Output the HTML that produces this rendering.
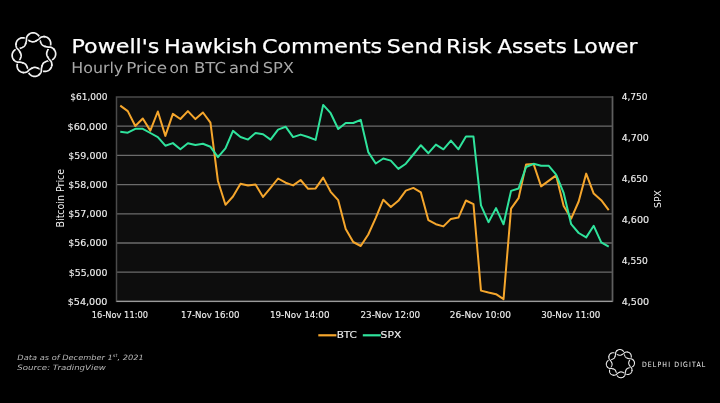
<!DOCTYPE html><html><head><meta charset="utf-8"><title>Powell's Hawkish Comments Send Risk Assets Lower</title><style>html,body{margin:0;padding:0;background:#000;overflow:hidden}svg{display:block;will-change:transform}</style></head><body>
<svg width="720" height="403" viewBox="0 0 720 403">
<rect width="720" height="403" fill="#000"/>
<path d="M32.76,32.83L33.44,32.83L34.13,32.90L34.80,33.04L35.47,33.25L36.11,33.54L36.74,33.89L37.33,34.30L37.89,34.79L38.42,35.35L38.89,35.98L39.30,36.70L39.62,37.59L39.70,38.99L39.91,39.87L40.13,40.60L40.35,41.25L40.57,41.85L40.78,42.39L40.99,42.89L41.21,43.34L41.43,43.76L41.66,44.14L41.91,44.49L42.18,44.80L42.46,45.09L42.78,45.34L43.12,45.57L43.49,45.78L43.89,45.98L44.33,46.15L44.81,46.32L45.33,46.48L45.89,46.64L46.50,46.79L47.17,46.94L47.92,47.08L48.82,47.20L50.22,47.13L51.13,47.36L51.90,47.69L52.58,48.10L53.18,48.56L53.73,49.06L54.20,49.61L54.62,50.20L54.96,50.81L55.24,51.45L55.46,52.11L55.60,52.78L55.67,53.46L55.67,54.14L55.60,54.83L55.46,55.50L55.25,56.17L54.96,56.81L54.61,57.44L54.20,58.03L53.71,58.59L53.15,59.12L52.52,59.59L51.80,60.00L50.91,60.32L49.51,60.40L48.63,60.61L47.90,60.83L47.25,61.05L46.65,61.27L46.11,61.48L45.61,61.69L45.16,61.91L44.74,62.13L44.36,62.36L44.01,62.61L43.70,62.88L43.41,63.16L43.16,63.48L42.93,63.82L42.72,64.19L42.52,64.59L42.35,65.03L42.18,65.51L42.02,66.03L41.86,66.59L41.71,67.20L41.56,67.87L41.42,68.62L41.30,69.52L41.37,70.92L41.14,71.83L40.81,72.60L40.40,73.28L39.94,73.88L39.44,74.43L38.89,74.90L38.30,75.32L37.69,75.66L37.05,75.94L36.39,76.16L35.72,76.30L35.04,76.37L34.36,76.37L33.67,76.30L33.00,76.16L32.33,75.95L31.69,75.66L31.06,75.31L30.47,74.90L29.91,74.41L29.38,73.85L28.91,73.22L28.50,72.50L28.18,71.61L28.10,70.21L27.89,69.33L27.67,68.60L27.45,67.95L27.23,67.35L27.02,66.81L26.81,66.31L26.59,65.86L26.37,65.44L26.14,65.06L25.89,64.71L25.62,64.40L25.34,64.11L25.02,63.86L24.68,63.63L24.31,63.42L23.91,63.22L23.47,63.05L22.99,62.88L22.47,62.72L21.91,62.56L21.30,62.41L20.63,62.26L19.88,62.12L18.98,62.00L17.58,62.07L16.67,61.84L15.90,61.51L15.22,61.10L14.62,60.64L14.07,60.14L13.60,59.59L13.18,59.00L12.84,58.39L12.56,57.75L12.34,57.09L12.20,56.42L12.13,55.74L12.13,55.06L12.20,54.37L12.34,53.70L12.55,53.03L12.84,52.39L13.19,51.76L13.60,51.17L14.09,50.61L14.65,50.08L15.28,49.61L16.00,49.20L16.89,48.88L18.29,48.80L19.17,48.59L19.90,48.37L20.55,48.15L21.15,47.93L21.69,47.72L22.19,47.51L22.64,47.29L23.06,47.07L23.44,46.84L23.79,46.59L24.10,46.32L24.39,46.04L24.64,45.72L24.87,45.38L25.08,45.01L25.28,44.61L25.45,44.17L25.62,43.69L25.78,43.17L25.94,42.61L26.09,42.00L26.24,41.33L26.38,40.58L26.50,39.68L26.43,38.28L26.66,37.37L26.99,36.60L27.40,35.92L27.86,35.32L28.36,34.77L28.91,34.30L29.50,33.88L30.11,33.54L30.75,33.26L31.41,33.04L32.08,32.90L32.76,32.83Z" fill="none" stroke="#f2f2f2" stroke-width="1.7"/>
<path d="M33.23,41.82L33.63,41.78L34.04,41.70L34.45,41.59L34.87,41.44L35.30,41.25L35.76,41.03L36.24,40.78L36.74,40.49L37.29,40.17L37.87,39.80L38.50,39.37L39.21,38.82L40.16,37.78L40.96,37.29L41.74,36.99L42.51,36.80L43.26,36.69L44.00,36.67L44.73,36.72L45.44,36.84L46.11,37.03L46.76,37.28L47.38,37.59L47.95,37.97L48.49,38.40L48.97,38.88L49.40,39.42L49.78,40.00L50.10,40.62L50.36,41.27L50.55,41.96L50.68,42.68L50.73,43.42L50.71,44.18L50.60,44.96L50.37,45.77L49.98,46.62L49.04,47.67L48.56,48.44L48.20,49.11L47.90,49.72L47.63,50.30L47.40,50.83L47.20,51.33L47.03,51.81L46.89,52.26L46.78,52.70L46.71,53.12L46.68,53.53L46.68,53.93L46.72,54.33L46.80,54.74L46.91,55.15L47.06,55.57L47.25,56.00L47.47,56.46L47.72,56.94L48.01,57.44L48.33,57.99L48.70,58.57L49.13,59.20L49.68,59.91L50.72,60.86L51.21,61.66L51.51,62.44L51.70,63.21L51.81,63.96L51.83,64.70L51.78,65.43L51.66,66.14L51.47,66.81L51.22,67.46L50.91,68.08L50.53,68.65L50.10,69.19L49.62,69.67L49.08,70.10L48.50,70.48L47.88,70.80L47.23,71.06L46.54,71.25L45.82,71.38L45.08,71.43L44.32,71.41L43.54,71.30L42.73,71.07L41.88,70.68L40.83,69.74L40.06,69.26L39.39,68.90L38.78,68.60L38.20,68.33L37.67,68.10L37.17,67.90L36.69,67.73L36.24,67.59L35.80,67.48L35.38,67.41L34.97,67.38L34.57,67.38L34.17,67.42L33.76,67.50L33.35,67.61L32.93,67.76L32.50,67.95L32.04,68.17L31.56,68.42L31.06,68.71L30.51,69.03L29.93,69.40L29.30,69.83L28.59,70.38L27.64,71.42L26.84,71.91L26.06,72.21L25.29,72.40L24.54,72.51L23.80,72.53L23.07,72.48L22.36,72.36L21.69,72.17L21.04,71.92L20.42,71.61L19.85,71.23L19.31,70.80L18.83,70.32L18.40,69.78L18.02,69.20L17.70,68.58L17.44,67.93L17.25,67.24L17.12,66.52L17.07,65.78L17.09,65.02L17.20,64.24L17.43,63.43L17.82,62.58L18.76,61.53L19.24,60.76L19.60,60.09L19.90,59.48L20.17,58.90L20.40,58.37L20.60,57.87L20.77,57.39L20.91,56.94L21.02,56.50L21.09,56.08L21.12,55.67L21.12,55.27L21.08,54.87L21.00,54.46L20.89,54.05L20.74,53.63L20.55,53.20L20.33,52.74L20.08,52.26L19.79,51.76L19.47,51.21L19.10,50.63L18.67,50.00L18.12,49.29L17.08,48.34L16.59,47.54L16.29,46.76L16.10,45.99L15.99,45.24L15.97,44.50L16.02,43.77L16.14,43.06L16.33,42.39L16.58,41.74L16.89,41.12L17.27,40.55L17.70,40.01L18.18,39.53L18.72,39.10L19.30,38.72L19.92,38.40L20.57,38.14L21.26,37.95L21.98,37.82L22.72,37.77L23.48,37.79L24.26,37.90L25.07,38.13L25.92,38.52L26.97,39.46L27.74,39.94L28.41,40.30L29.02,40.60L29.60,40.87L30.13,41.10L30.63,41.30L31.11,41.47L31.56,41.61L32.00,41.72L32.42,41.79L32.83,41.82L33.23,41.82Z" fill="none" stroke="#f2f2f2" stroke-width="1.7"/>
<path d="M36.49,40.64L36.74,40.49L37.01,40.33L37.29,40.17L37.57,39.99L37.87,39.80L38.17,39.60L38.50,39.37L38.84,39.12L39.21,38.82L39.67,38.29L40.16,37.78L40.57,37.50L40.96,37.29L41.35,37.12L41.74,36.99L42.13,36.88L42.51,36.80L42.89,36.73L43.26,36.69L43.64,36.67" fill="none" stroke="#000" stroke-width="3.5" stroke-linecap="butt"/>
<path d="M35.53,41.15L35.76,41.03L35.99,40.91L36.24,40.78L36.49,40.64L36.74,40.49L37.01,40.33L37.29,40.17L37.57,39.99L37.87,39.80L38.17,39.60L38.50,39.37L38.84,39.12L39.21,38.82L39.67,38.29L40.16,37.78L40.57,37.50L40.96,37.29L41.35,37.12L41.74,36.99L42.13,36.88L42.51,36.80L42.89,36.73L43.26,36.69L43.64,36.67L44.00,36.67L44.37,36.68L44.73,36.72L45.09,36.77" fill="none" stroke="#f2f2f2" stroke-width="1.7"/>
<path d="M45.66,46.57L45.95,46.65L46.25,46.73L46.56,46.80L46.89,46.88L47.24,46.95L47.61,47.03L48.00,47.10L48.43,47.16L48.92,47.20L49.73,47.11L50.32,47.14L50.79,47.25L51.21,47.39L51.60,47.55L51.97,47.73L52.31,47.93L52.64,48.14L52.95,48.37L53.24,48.61L53.52,48.86" fill="none" stroke="#000" stroke-width="3.5" stroke-linecap="butt"/>
<path d="M44.61,46.26L44.86,46.34L45.11,46.42L45.38,46.50L45.66,46.57L45.95,46.65L46.25,46.73L46.56,46.80L46.89,46.88L47.24,46.95L47.61,47.03L48.00,47.10L48.43,47.16L48.92,47.20L49.73,47.11L50.32,47.14L50.79,47.25L51.21,47.39L51.60,47.55L51.97,47.73L52.31,47.93L52.64,48.14L52.95,48.37L53.24,48.61L53.52,48.86L53.78,49.12L54.02,49.39L54.25,49.67L54.46,49.96" fill="none" stroke="#f2f2f2" stroke-width="1.7"/>
<path d="M47.89,57.24L48.04,57.50L48.20,57.76L48.37,58.04L48.55,58.33L48.74,58.63L48.95,58.94L49.18,59.26L49.43,59.61L49.75,59.99L50.39,60.50L50.79,60.94L51.04,61.35L51.24,61.74L51.41,62.13L51.53,62.52L51.64,62.90L51.72,63.28L51.78,63.66L51.81,64.04L51.83,64.41" fill="none" stroke="#000" stroke-width="3.5" stroke-linecap="butt"/>
<path d="M47.37,56.27L47.49,56.51L47.61,56.74L47.75,56.99L47.89,57.24L48.04,57.50L48.20,57.76L48.37,58.04L48.55,58.33L48.74,58.63L48.95,58.94L49.18,59.26L49.43,59.61L49.75,59.99L50.39,60.50L50.79,60.94L51.04,61.35L51.24,61.74L51.41,62.13L51.53,62.52L51.64,62.90L51.72,63.28L51.78,63.66L51.81,64.04L51.83,64.41L51.83,64.78L51.81,65.14L51.77,65.50L51.72,65.86" fill="none" stroke="#f2f2f2" stroke-width="1.7"/>
<path d="M41.93,66.36L41.85,66.65L41.77,66.95L41.70,67.26L41.62,67.59L41.55,67.94L41.47,68.31L41.40,68.70L41.34,69.13L41.30,69.62L41.39,70.43L41.36,71.02L41.25,71.49L41.11,71.91L40.95,72.30L40.77,72.67L40.57,73.01L40.36,73.34L40.13,73.65L39.89,73.94L39.64,74.22" fill="none" stroke="#000" stroke-width="3.5" stroke-linecap="butt"/>
<path d="M42.24,65.31L42.16,65.56L42.08,65.81L42.00,66.08L41.93,66.36L41.85,66.65L41.77,66.95L41.70,67.26L41.62,67.59L41.55,67.94L41.47,68.31L41.40,68.70L41.34,69.13L41.30,69.62L41.39,70.43L41.36,71.02L41.25,71.49L41.11,71.91L40.95,72.30L40.77,72.67L40.57,73.01L40.36,73.34L40.13,73.65L39.89,73.94L39.64,74.22L39.38,74.48L39.11,74.72L38.83,74.95L38.54,75.16" fill="none" stroke="#f2f2f2" stroke-width="1.7"/>
<path d="M31.26,68.59L31.00,68.74L30.74,68.90L30.46,69.07L30.17,69.25L29.87,69.44L29.56,69.65L29.24,69.88L28.89,70.13L28.51,70.45L28.00,71.09L27.56,71.49L27.15,71.74L26.76,71.94L26.37,72.11L25.98,72.23L25.60,72.34L25.22,72.42L24.84,72.48L24.46,72.51L24.09,72.53" fill="none" stroke="#000" stroke-width="3.5" stroke-linecap="butt"/>
<path d="M32.23,68.07L31.99,68.19L31.76,68.31L31.51,68.45L31.26,68.59L31.00,68.74L30.74,68.90L30.46,69.07L30.17,69.25L29.87,69.44L29.56,69.65L29.24,69.88L28.89,70.13L28.51,70.45L28.00,71.09L27.56,71.49L27.15,71.74L26.76,71.94L26.37,72.11L25.98,72.23L25.60,72.34L25.22,72.42L24.84,72.48L24.46,72.51L24.09,72.53L23.72,72.53L23.36,72.51L23.00,72.47L22.64,72.42" fill="none" stroke="#f2f2f2" stroke-width="1.7"/>
<path d="M22.14,62.63L21.85,62.55L21.55,62.47L21.24,62.40L20.91,62.32L20.56,62.25L20.19,62.17L19.80,62.10L19.37,62.04L18.88,62.00L18.07,62.09L17.48,62.06L17.01,61.95L16.59,61.81L16.20,61.65L15.83,61.47L15.49,61.27L15.16,61.06L14.85,60.83L14.56,60.59L14.28,60.34" fill="none" stroke="#000" stroke-width="3.5" stroke-linecap="butt"/>
<path d="M23.19,62.94L22.94,62.86L22.69,62.78L22.42,62.70L22.14,62.63L21.85,62.55L21.55,62.47L21.24,62.40L20.91,62.32L20.56,62.25L20.19,62.17L19.80,62.10L19.37,62.04L18.88,62.00L18.07,62.09L17.48,62.06L17.01,61.95L16.59,61.81L16.20,61.65L15.83,61.47L15.49,61.27L15.16,61.06L14.85,60.83L14.56,60.59L14.28,60.34L14.02,60.08L13.78,59.81L13.55,59.53L13.34,59.24" fill="none" stroke="#f2f2f2" stroke-width="1.7"/>
<path d="M19.94,52.01L19.79,51.76L19.63,51.49L19.47,51.21L19.29,50.93L19.10,50.63L18.90,50.33L18.67,50.00L18.42,49.66L18.12,49.29L17.59,48.83L17.08,48.34L16.80,47.93L16.59,47.54L16.42,47.15L16.29,46.76L16.18,46.37L16.10,45.99L16.03,45.61L15.99,45.24L15.97,44.86" fill="none" stroke="#000" stroke-width="3.5" stroke-linecap="butt"/>
<path d="M20.45,52.97L20.33,52.74L20.21,52.51L20.08,52.26L19.94,52.01L19.79,51.76L19.63,51.49L19.47,51.21L19.29,50.93L19.10,50.63L18.90,50.33L18.67,50.00L18.42,49.66L18.12,49.29L17.59,48.83L17.08,48.34L16.80,47.93L16.59,47.54L16.42,47.15L16.29,46.76L16.18,46.37L16.10,45.99L16.03,45.61L15.99,45.24L15.97,44.86L15.97,44.50L15.98,44.13L16.02,43.77L16.07,43.41" fill="none" stroke="#f2f2f2" stroke-width="1.7"/>
<path d="M25.86,42.90L25.94,42.61L26.01,42.31L26.09,42.00L26.16,41.67L26.24,41.33L26.31,40.97L26.38,40.58L26.45,40.16L26.50,39.68L26.45,38.99L26.43,38.28L26.52,37.80L26.66,37.37L26.81,36.97L26.99,36.60L27.19,36.25L27.40,35.92L27.62,35.61L27.86,35.32L28.11,35.04" fill="none" stroke="#000" stroke-width="3.5" stroke-linecap="butt"/>
<path d="M25.54,43.94L25.62,43.69L25.70,43.44L25.78,43.17L25.86,42.90L25.94,42.61L26.01,42.31L26.09,42.00L26.16,41.67L26.24,41.33L26.31,40.97L26.38,40.58L26.45,40.16L26.50,39.68L26.45,38.99L26.43,38.28L26.52,37.80L26.66,37.37L26.81,36.97L26.99,36.60L27.19,36.25L27.40,35.92L27.62,35.61L27.86,35.32L28.11,35.04L28.36,34.77L28.63,34.53L28.91,34.30L29.20,34.08" fill="none" stroke="#f2f2f2" stroke-width="1.7"/>
<rect x="116.5" y="97.0" width="496.0" height="204.39999999999998" fill="#0d0d0d"/>
<line x1="116.5" x2="612.5" y1="126.20" y2="126.20" stroke="#6b6b6b" stroke-width="1.3"/>
<line x1="116.5" x2="612.5" y1="155.40" y2="155.40" stroke="#6b6b6b" stroke-width="1.3"/>
<line x1="116.5" x2="612.5" y1="184.60" y2="184.60" stroke="#6b6b6b" stroke-width="1.3"/>
<line x1="116.5" x2="612.5" y1="213.80" y2="213.80" stroke="#6b6b6b" stroke-width="1.3"/>
<line x1="116.5" x2="612.5" y1="243.00" y2="243.00" stroke="#6b6b6b" stroke-width="1.3"/>
<line x1="116.5" x2="612.5" y1="272.20" y2="272.20" stroke="#6b6b6b" stroke-width="1.3"/>
<rect x="116.5" y="97.0" width="496.0" height="204.39999999999998" fill="none" stroke="#4a4a4a" stroke-width="1.5"/>
<line x1="612.5" x2="612.5" y1="96.25" y2="301.4" stroke="#5e5e5e" stroke-width="1.5"/>
<line x1="116.5" x2="612.5" y1="301.4" y2="301.4" stroke="#9a9a9a" stroke-width="1.3"/>
<polyline points="120.26,105.60 127.77,111.10 135.29,126.00 142.80,118.50 150.32,130.60 157.83,111.50 165.35,135.90 172.86,113.90 180.38,119.00 187.89,111.10 195.41,119.10 202.92,112.50 210.44,122.70 217.95,181.00 225.47,204.80 232.98,196.50 240.50,183.70 248.02,185.50 255.53,184.60 263.05,196.90 270.56,187.90 278.08,178.50 285.59,182.70 293.11,185.40 300.62,180.00 308.14,188.80 315.65,188.40 323.17,177.60 330.68,191.80 338.20,200.20 345.71,229.00 353.23,242.00 360.74,246.00 368.26,234.50 375.77,217.80 383.29,199.70 390.80,207.00 398.32,200.80 405.83,190.60 413.35,187.90 420.86,192.40 428.38,220.20 435.89,224.20 443.41,226.40 450.92,218.90 458.44,217.60 465.95,200.50 473.47,204.10 480.98,290.60 488.50,292.50 496.02,294.20 503.53,299.10 511.05,208.70 518.56,198.20 526.08,164.40 533.59,164.00 541.11,186.40 548.62,180.90 556.14,175.40 563.65,206.10 571.17,218.60 578.68,201.50 586.20,173.60 593.71,193.60 601.23,200.20 608.74,210.10" fill="none" stroke="#f5a62c" stroke-width="2" stroke-linejoin="round"/>
<polyline points="120.26,131.80 127.77,132.70 135.29,128.80 142.80,128.80 150.32,133.00 157.83,137.10 165.35,145.70 172.86,143.10 180.38,149.20 187.89,143.30 195.41,145.00 202.92,143.80 210.44,146.80 217.95,157.10 225.47,148.30 232.98,130.90 240.50,137.00 248.02,139.60 255.53,132.90 263.05,134.30 270.56,139.60 278.08,129.60 285.59,126.70 293.11,137.10 300.62,134.60 308.14,137.00 315.65,139.90 323.17,104.90 330.68,113.20 338.20,129.00 345.71,123.00 353.23,123.00 360.74,119.80 368.26,152.10 375.77,163.50 383.29,158.50 390.80,160.60 398.32,168.90 405.83,163.70 413.35,154.50 420.86,145.20 428.38,153.20 435.89,144.60 443.41,149.30 450.92,140.60 458.44,149.30 465.95,136.40 473.47,136.60 480.98,205.40 488.50,222.20 496.02,208.10 503.53,224.30 511.05,190.90 518.56,188.50 526.08,167.00 533.59,163.80 541.11,165.70 548.62,165.70 556.14,174.60 563.65,192.90 571.17,224.20 578.68,233.00 586.20,237.40 593.71,225.80 601.23,242.30 608.74,246.70" fill="none" stroke="#2fe39c" stroke-width="2" stroke-linejoin="round"/>
<text x="71.48" y="52.8" font-family="'DejaVu Sans','Liberation Sans',sans-serif" font-size="20.0" fill="#ffffff" stroke="#fff" stroke-width="0.25"  textLength="87.94" lengthAdjust="spacingAndGlyphs">Powell's</text>
<text x="164.08" y="52.8" font-family="'DejaVu Sans','Liberation Sans',sans-serif" font-size="20.0" fill="#ffffff" stroke="#fff" stroke-width="0.25"  textLength="93.33" lengthAdjust="spacingAndGlyphs">Hawkish</text>
<text x="262.0" y="52.8" font-family="'DejaVu Sans','Liberation Sans',sans-serif" font-size="20.0" fill="#ffffff" stroke="#fff" stroke-width="0.25"  textLength="120.19" lengthAdjust="spacingAndGlyphs">Comments</text>
<text x="386.84" y="52.8" font-family="'DejaVu Sans','Liberation Sans',sans-serif" font-size="20.0" fill="#ffffff" stroke="#fff" stroke-width="0.25"  textLength="55.64" lengthAdjust="spacingAndGlyphs">Send</text>
<text x="446.11" y="52.8" font-family="'DejaVu Sans','Liberation Sans',sans-serif" font-size="20.0" fill="#ffffff" stroke="#fff" stroke-width="0.25"  textLength="45.46" lengthAdjust="spacingAndGlyphs">Risk</text>
<text x="497.47" y="52.8" font-family="'DejaVu Sans','Liberation Sans',sans-serif" font-size="20.0" fill="#ffffff" stroke="#fff" stroke-width="0.25"  textLength="69.29" lengthAdjust="spacingAndGlyphs">Assets</text>
<text x="572.84" y="52.8" font-family="'DejaVu Sans','Liberation Sans',sans-serif" font-size="20.0" fill="#ffffff" stroke="#fff" stroke-width="0.25"  textLength="64.6" lengthAdjust="spacingAndGlyphs">Lower</text>
<text x="71.31" y="72.6" font-family="'DejaVu Sans','Liberation Sans',sans-serif" font-size="15.0" fill="#a8a8a8" text-rendering="geometricPrecision" textLength="51.97" lengthAdjust="spacingAndGlyphs">Hourly</text>
<text x="126.22" y="72.6" font-family="'DejaVu Sans','Liberation Sans',sans-serif" font-size="15.0" fill="#a8a8a8" text-rendering="geometricPrecision" textLength="40.97" lengthAdjust="spacingAndGlyphs">Price</text>
<text x="169.58" y="72.6" font-family="'DejaVu Sans','Liberation Sans',sans-serif" font-size="15.0" fill="#a8a8a8" text-rendering="geometricPrecision" textLength="19.09" lengthAdjust="spacingAndGlyphs">on</text>
<text x="194.05" y="72.6" font-family="'DejaVu Sans','Liberation Sans',sans-serif" font-size="15.0" fill="#a8a8a8" text-rendering="geometricPrecision" textLength="31.96" lengthAdjust="spacingAndGlyphs">BTC</text>
<text x="228.92" y="72.6" font-family="'DejaVu Sans','Liberation Sans',sans-serif" font-size="15.0" fill="#a8a8a8" text-rendering="geometricPrecision" textLength="30.61" lengthAdjust="spacingAndGlyphs">and</text>
<text x="262.65" y="72.6" font-family="'DejaVu Sans','Liberation Sans',sans-serif" font-size="15.0" fill="#a8a8a8" text-rendering="geometricPrecision" textLength="31.43" lengthAdjust="spacingAndGlyphs">SPX</text>
<text x="70.23" y="100.3" font-family="'DejaVu Sans','Liberation Sans',sans-serif" font-size="9.1" fill="#f0f0f0" stroke="#f0f0f0" stroke-width="0.12"  textLength="37.23" lengthAdjust="spacingAndGlyphs">$61,000</text>
<text x="67.56" y="129.5" font-family="'DejaVu Sans','Liberation Sans',sans-serif" font-size="9.1" fill="#f0f0f0" stroke="#f0f0f0" stroke-width="0.12"  textLength="39.89" lengthAdjust="spacingAndGlyphs">$60,000</text>
<text x="68.33" y="158.7" font-family="'DejaVu Sans','Liberation Sans',sans-serif" font-size="9.1" fill="#f0f0f0" stroke="#f0f0f0" stroke-width="0.12"  textLength="39.1" lengthAdjust="spacingAndGlyphs">$59,000</text>
<text x="68.33" y="187.9" font-family="'DejaVu Sans','Liberation Sans',sans-serif" font-size="9.1" fill="#f0f0f0" stroke="#f0f0f0" stroke-width="0.12"  textLength="39.1" lengthAdjust="spacingAndGlyphs">$58,000</text>
<text x="68.33" y="217.1" font-family="'DejaVu Sans','Liberation Sans',sans-serif" font-size="9.1" fill="#f0f0f0" stroke="#f0f0f0" stroke-width="0.12"  textLength="39.1" lengthAdjust="spacingAndGlyphs">$57,000</text>
<text x="68.33" y="246.3" font-family="'DejaVu Sans','Liberation Sans',sans-serif" font-size="9.1" fill="#f0f0f0" stroke="#f0f0f0" stroke-width="0.12"  textLength="39.1" lengthAdjust="spacingAndGlyphs">$56,000</text>
<text x="68.72" y="275.5" font-family="'DejaVu Sans','Liberation Sans',sans-serif" font-size="9.1" fill="#f0f0f0" stroke="#f0f0f0" stroke-width="0.12"  textLength="38.74" lengthAdjust="spacingAndGlyphs">$55,000</text>
<text x="67.71" y="304.7" font-family="'DejaVu Sans','Liberation Sans',sans-serif" font-size="9.1" fill="#f0f0f0" stroke="#f0f0f0" stroke-width="0.12"  textLength="39.74" lengthAdjust="spacingAndGlyphs">$54,000</text>
<text x="621.7" y="100.3" font-family="'DejaVu Sans','Liberation Sans',sans-serif" font-size="9.1" fill="#f0f0f0" stroke="#f0f0f0" stroke-width="0.12"  textLength="25.86" lengthAdjust="spacingAndGlyphs">4,750</text>
<text x="621.68" y="141.18" font-family="'DejaVu Sans','Liberation Sans',sans-serif" font-size="9.1" fill="#f0f0f0" stroke="#f0f0f0" stroke-width="0.12"  textLength="27.11" lengthAdjust="spacingAndGlyphs">4,700</text>
<text x="621.7" y="182.06" font-family="'DejaVu Sans','Liberation Sans',sans-serif" font-size="9.1" fill="#f0f0f0" stroke="#f0f0f0" stroke-width="0.12"  textLength="26.17" lengthAdjust="spacingAndGlyphs">4,650</text>
<text x="621.67" y="222.94" font-family="'DejaVu Sans','Liberation Sans',sans-serif" font-size="9.1" fill="#f0f0f0" stroke="#f0f0f0" stroke-width="0.12"  textLength="27.42" lengthAdjust="spacingAndGlyphs">4,600</text>
<text x="621.7" y="263.82" font-family="'DejaVu Sans','Liberation Sans',sans-serif" font-size="9.1" fill="#f0f0f0" stroke="#f0f0f0" stroke-width="0.12"  textLength="26.17" lengthAdjust="spacingAndGlyphs">4,550</text>
<text x="621.67" y="304.7" font-family="'DejaVu Sans','Liberation Sans',sans-serif" font-size="9.1" fill="#f0f0f0" stroke="#f0f0f0" stroke-width="0.12"  textLength="27.42" lengthAdjust="spacingAndGlyphs">4,500</text>
<text x="91.86" y="318.3" font-family="'DejaVu Sans','Liberation Sans',sans-serif" font-size="9.3" fill="#f0f0f0" stroke="#f0f0f0" stroke-width="0.12"  textLength="56.09" lengthAdjust="spacingAndGlyphs">16-Nov 11:00</text>
<text x="180.91" y="318.3" font-family="'DejaVu Sans','Liberation Sans',sans-serif" font-size="9.3" fill="#f0f0f0" stroke="#f0f0f0" stroke-width="0.12"  textLength="58.56" lengthAdjust="spacingAndGlyphs">17-Nov 16:00</text>
<text x="269.89" y="318.3" font-family="'DejaVu Sans','Liberation Sans',sans-serif" font-size="9.3" fill="#f0f0f0" stroke="#f0f0f0" stroke-width="0.12"  textLength="59.59" lengthAdjust="spacingAndGlyphs">19-Nov 14:00</text>
<text x="360.44" y="318.3" font-family="'DejaVu Sans','Liberation Sans',sans-serif" font-size="9.3" fill="#f0f0f0" stroke="#f0f0f0" stroke-width="0.12"  textLength="59.74" lengthAdjust="spacingAndGlyphs">23-Nov 12:00</text>
<text x="449.82" y="318.3" font-family="'DejaVu Sans','Liberation Sans',sans-serif" font-size="9.3" fill="#f0f0f0" stroke="#f0f0f0" stroke-width="0.12"  textLength="61.07" lengthAdjust="spacingAndGlyphs">26-Nov 10:00</text>
<text x="541.13" y="318.3" font-family="'DejaVu Sans','Liberation Sans',sans-serif" font-size="9.3" fill="#f0f0f0" stroke="#f0f0f0" stroke-width="0.12"  textLength="59.15" lengthAdjust="spacingAndGlyphs">30-Nov 11:00</text>
<text x="336.66" y="338.3" font-family="'DejaVu Sans','Liberation Sans',sans-serif" font-size="9.2" fill="#f0f0f0" stroke="#f0f0f0" stroke-width="0.12"  textLength="20.28" lengthAdjust="spacingAndGlyphs">BTC</text>
<text x="380.63" y="338.3" font-family="'DejaVu Sans','Liberation Sans',sans-serif" font-size="9.2" fill="#f0f0f0" stroke="#f0f0f0" stroke-width="0.12"  textLength="20.6" lengthAdjust="spacingAndGlyphs">SPX</text>
<text x="17.37" y="360.2" font-family="'DejaVu Sans','Liberation Sans',sans-serif" font-size="7.3" fill="#b8b8b8" font-style="italic" textLength="126.36" lengthAdjust="spacingAndGlyphs">Data as of December 1<tspan font-size="4.5" dy="-2.8">st</tspan><tspan dy="2.8">, 2021</tspan></text>
<text x="17.33" y="369.7" font-family="'DejaVu Sans','Liberation Sans',sans-serif" font-size="7.3" fill="#b8b8b8" font-style="italic" textLength="88.45" lengthAdjust="spacingAndGlyphs">Source: TradingView</text>
<text transform="translate(64.3,227.5) rotate(-90)" font-family="'DejaVu Sans','Liberation Sans',sans-serif" font-size="9.8" fill="#f0f0f0" textLength="58.6" lengthAdjust="spacingAndGlyphs">Bitcoin Price</text>
<text transform="translate(660.8,208) rotate(-90)" font-family="'DejaVu Sans','Liberation Sans',sans-serif" font-size="9.2" fill="#f0f0f0" textLength="17.9" lengthAdjust="spacingAndGlyphs">SPX</text>
<line x1="318.3" x2="336.4" y1="335.3" y2="335.3" stroke="#f5a62c" stroke-width="2.2"/>
<line x1="362.8" x2="380.8" y1="335.3" y2="335.3" stroke="#2fe39c" stroke-width="2.2"/>
<path d="M619.66,349.52L620.11,349.52L620.55,349.56L620.98,349.66L621.41,349.79L621.83,349.97L622.24,350.20L622.62,350.47L622.98,350.78L623.32,351.14L623.63,351.55L623.90,352.02L624.11,352.59L624.16,353.49L624.29,354.06L624.44,354.53L624.58,354.95L624.72,355.34L624.86,355.69L625.00,356.01L625.14,356.30L625.28,356.57L625.43,356.82L625.60,357.05L625.77,357.25L625.95,357.43L626.16,357.60L626.38,357.75L626.62,357.88L626.88,358.01L627.16,358.13L627.47,358.23L627.80,358.34L628.17,358.44L628.56,358.54L629.00,358.64L629.48,358.73L630.06,358.81L630.96,358.76L631.55,358.91L632.05,359.13L632.48,359.39L632.88,359.69L633.23,360.02L633.53,360.37L633.80,360.75L634.03,361.15L634.21,361.56L634.34,361.99L634.43,362.42L634.48,362.86L634.48,363.31L634.44,363.75L634.34,364.18L634.21,364.61L634.03,365.03L633.80,365.44L633.53,365.82L633.22,366.18L632.86,366.52L632.45,366.83L631.98,367.10L631.41,367.31L630.51,367.36L629.94,367.49L629.47,367.64L629.05,367.78L628.66,367.92L628.31,368.06L627.99,368.20L627.70,368.34L627.43,368.48L627.18,368.63L626.95,368.80L626.75,368.97L626.57,369.15L626.40,369.36L626.25,369.58L626.12,369.82L625.99,370.08L625.87,370.36L625.77,370.67L625.66,371.00L625.56,371.37L625.46,371.76L625.36,372.20L625.27,372.68L625.19,373.26L625.24,374.16L625.09,374.75L624.87,375.25L624.61,375.68L624.31,376.08L623.98,376.43L623.63,376.73L623.25,377.00L622.85,377.23L622.44,377.41L622.01,377.54L621.58,377.63L621.14,377.68L620.69,377.68L620.25,377.64L619.82,377.54L619.39,377.41L618.97,377.23L618.56,377.00L618.18,376.73L617.82,376.42L617.48,376.06L617.17,375.65L616.90,375.18L616.69,374.61L616.64,373.71L616.51,373.14L616.36,372.67L616.22,372.25L616.08,371.86L615.94,371.51L615.80,371.19L615.66,370.90L615.52,370.63L615.37,370.38L615.20,370.15L615.03,369.95L614.85,369.77L614.64,369.60L614.42,369.45L614.18,369.32L613.92,369.19L613.64,369.07L613.33,368.97L613.00,368.86L612.63,368.76L612.24,368.66L611.80,368.56L611.32,368.47L610.74,368.39L609.84,368.44L609.25,368.29L608.75,368.07L608.32,367.81L607.92,367.51L607.57,367.18L607.27,366.83L607.00,366.45L606.77,366.05L606.59,365.64L606.46,365.21L606.37,364.78L606.32,364.34L606.32,363.89L606.36,363.45L606.46,363.02L606.59,362.59L606.77,362.17L607.00,361.76L607.27,361.38L607.58,361.02L607.94,360.68L608.35,360.37L608.82,360.10L609.39,359.89L610.29,359.84L610.86,359.71L611.33,359.56L611.75,359.42L612.14,359.28L612.49,359.14L612.81,359.00L613.10,358.86L613.37,358.72L613.62,358.57L613.85,358.40L614.05,358.23L614.23,358.05L614.40,357.84L614.55,357.62L614.68,357.38L614.81,357.12L614.93,356.84L615.03,356.53L615.14,356.20L615.24,355.83L615.34,355.44L615.44,355.00L615.53,354.52L615.61,353.94L615.56,353.04L615.71,352.45L615.93,351.95L616.19,351.52L616.49,351.12L616.82,350.77L617.17,350.47L617.55,350.20L617.95,349.97L618.36,349.79L618.79,349.66L619.22,349.57L619.66,349.52Z" fill="none" stroke="#e8e8e8" stroke-width="1.1"/>
<path d="M619.97,355.31L620.23,355.29L620.49,355.24L620.75,355.16L621.03,355.07L621.31,354.95L621.60,354.81L621.91,354.64L622.24,354.46L622.59,354.25L622.97,354.01L623.38,353.74L623.84,353.38L624.45,352.71L624.97,352.40L625.47,352.20L625.97,352.08L626.46,352.01L626.94,352.00L627.41,352.03L627.86,352.11L628.30,352.23L628.72,352.40L629.12,352.60L629.49,352.84L629.83,353.12L630.15,353.43L630.43,353.78L630.67,354.15L630.88,354.55L631.05,354.98L631.17,355.42L631.25,355.89L631.29,356.37L631.27,356.86L631.20,357.36L631.06,357.88L630.81,358.43L630.20,359.11L629.90,359.61L629.67,360.04L629.47,360.44L629.30,360.81L629.15,361.16L629.02,361.48L628.91,361.79L628.82,362.08L628.75,362.37L628.71,362.64L628.69,362.90L628.69,363.17L628.71,363.43L628.76,363.69L628.84,363.95L628.93,364.23L629.05,364.51L629.19,364.80L629.36,365.11L629.54,365.44L629.75,365.79L629.99,366.17L630.26,366.58L630.62,367.04L631.29,367.65L631.60,368.17L631.80,368.67L631.92,369.17L631.99,369.66L632.00,370.14L631.97,370.61L631.89,371.06L631.77,371.50L631.60,371.92L631.40,372.32L631.16,372.69L630.88,373.03L630.57,373.35L630.22,373.63L629.85,373.87L629.45,374.08L629.02,374.25L628.58,374.37L628.11,374.45L627.63,374.49L627.14,374.47L626.64,374.40L626.12,374.26L625.57,374.01L624.89,373.40L624.39,373.10L623.96,372.87L623.56,372.67L623.19,372.50L622.84,372.35L622.52,372.22L622.21,372.11L621.92,372.02L621.63,371.95L621.36,371.91L621.10,371.89L620.83,371.89L620.57,371.91L620.31,371.96L620.05,372.04L619.77,372.13L619.49,372.25L619.20,372.39L618.89,372.56L618.56,372.74L618.21,372.95L617.83,373.19L617.42,373.46L616.96,373.82L616.35,374.49L615.83,374.80L615.33,375.00L614.83,375.12L614.34,375.19L613.86,375.20L613.39,375.17L612.94,375.09L612.50,374.97L612.08,374.80L611.68,374.60L611.31,374.36L610.97,374.08L610.65,373.77L610.37,373.42L610.13,373.05L609.92,372.65L609.75,372.22L609.63,371.78L609.55,371.31L609.51,370.83L609.53,370.34L609.60,369.84L609.74,369.32L609.99,368.77L610.60,368.09L610.90,367.59L611.13,367.16L611.33,366.76L611.50,366.39L611.65,366.04L611.78,365.72L611.89,365.41L611.98,365.12L612.05,364.83L612.09,364.56L612.11,364.30L612.11,364.03L612.09,363.77L612.04,363.51L611.96,363.25L611.87,362.97L611.75,362.69L611.61,362.40L611.44,362.09L611.26,361.76L611.05,361.41L610.81,361.03L610.54,360.62L610.18,360.16L609.51,359.55L609.20,359.03L609.00,358.53L608.88,358.03L608.81,357.54L608.80,357.06L608.83,356.59L608.91,356.14L609.03,355.70L609.20,355.28L609.40,354.88L609.64,354.51L609.92,354.17L610.23,353.85L610.58,353.57L610.95,353.33L611.35,353.12L611.78,352.95L612.22,352.83L612.69,352.75L613.17,352.71L613.66,352.73L614.16,352.80L614.68,352.94L615.23,353.19L615.91,353.80L616.41,354.10L616.84,354.33L617.24,354.53L617.61,354.70L617.96,354.85L618.28,354.98L618.59,355.09L618.88,355.18L619.17,355.25L619.44,355.29L619.70,355.31L619.97,355.31Z" fill="none" stroke="#e8e8e8" stroke-width="1.1"/>
<path d="M622.08,354.55L622.24,354.46L622.42,354.36L622.59,354.25L622.78,354.13L622.97,354.01L623.17,353.88L623.38,353.74L623.60,353.58L623.84,353.38L624.14,353.04L624.45,352.71L624.71,352.53L624.97,352.40L625.22,352.29L625.47,352.20L625.72,352.13L625.97,352.08L626.21,352.04L626.46,352.01L626.70,352.00" fill="none" stroke="#000" stroke-width="2.3" stroke-linecap="butt"/>
<path d="M621.46,354.88L621.60,354.81L621.76,354.73L621.91,354.64L622.08,354.55L622.24,354.46L622.42,354.36L622.59,354.25L622.78,354.13L622.97,354.01L623.17,353.88L623.38,353.74L623.60,353.58L623.84,353.38L624.14,353.04L624.45,352.71L624.71,352.53L624.97,352.40L625.22,352.29L625.47,352.20L625.72,352.13L625.97,352.08L626.21,352.04L626.46,352.01L626.70,352.00L626.94,352.00L627.17,352.01L627.41,352.03L627.64,352.07" fill="none" stroke="#e8e8e8" stroke-width="1.1"/>
<path d="M628.02,358.40L628.21,358.45L628.40,358.50L628.60,358.55L628.82,358.60L629.04,358.65L629.28,358.69L629.53,358.74L629.81,358.78L630.13,358.81L630.65,358.75L631.03,358.77L631.33,358.84L631.61,358.93L631.86,359.04L632.09,359.15L632.31,359.28L632.52,359.42L632.72,359.57L632.91,359.72L633.09,359.88" fill="none" stroke="#000" stroke-width="2.3" stroke-linecap="butt"/>
<path d="M627.34,358.19L627.50,358.24L627.67,358.30L627.84,358.35L628.02,358.40L628.21,358.45L628.40,358.50L628.60,358.55L628.82,358.60L629.04,358.65L629.28,358.69L629.53,358.74L629.81,358.78L630.13,358.81L630.65,358.75L631.03,358.77L631.33,358.84L631.61,358.93L631.86,359.04L632.09,359.15L632.31,359.28L632.52,359.42L632.72,359.57L632.91,359.72L633.09,359.88L633.26,360.05L633.42,360.23L633.56,360.41L633.70,360.60" fill="none" stroke="#e8e8e8" stroke-width="1.1"/>
<path d="M629.47,365.31L629.56,365.48L629.66,365.65L629.77,365.83L629.89,366.02L630.01,366.21L630.15,366.41L630.29,366.62L630.46,366.85L630.67,367.09L631.07,367.42L631.33,367.70L631.50,367.97L631.62,368.22L631.73,368.47L631.81,368.72L631.88,368.97L631.93,369.22L631.97,369.46L631.99,369.71L632.00,369.95" fill="none" stroke="#000" stroke-width="2.3" stroke-linecap="butt"/>
<path d="M629.13,364.68L629.21,364.83L629.29,364.99L629.37,365.15L629.47,365.31L629.56,365.48L629.66,365.65L629.77,365.83L629.89,366.02L630.01,366.21L630.15,366.41L630.29,366.62L630.46,366.85L630.67,367.09L631.07,367.42L631.33,367.70L631.50,367.97L631.62,368.22L631.73,368.47L631.81,368.72L631.88,368.97L631.93,369.22L631.97,369.46L631.99,369.71L632.00,369.95L632.00,370.18L631.99,370.42L631.96,370.65L631.93,370.88" fill="none" stroke="#e8e8e8" stroke-width="1.1"/>
<path d="M625.60,371.22L625.55,371.41L625.50,371.60L625.45,371.80L625.40,372.02L625.35,372.24L625.31,372.48L625.26,372.73L625.22,373.01L625.19,373.33L625.25,373.85L625.23,374.23L625.16,374.53L625.07,374.81L624.96,375.06L624.85,375.29L624.72,375.51L624.58,375.72L624.43,375.92L624.28,376.11L624.12,376.29" fill="none" stroke="#000" stroke-width="2.3" stroke-linecap="butt"/>
<path d="M625.81,370.54L625.76,370.70L625.70,370.87L625.65,371.04L625.60,371.22L625.55,371.41L625.50,371.60L625.45,371.80L625.40,372.02L625.35,372.24L625.31,372.48L625.26,372.73L625.22,373.01L625.19,373.33L625.25,373.85L625.23,374.23L625.16,374.53L625.07,374.81L624.96,375.06L624.85,375.29L624.72,375.51L624.58,375.72L624.43,375.92L624.28,376.11L624.12,376.29L623.95,376.46L623.77,376.62L623.59,376.76L623.40,376.90" fill="none" stroke="#e8e8e8" stroke-width="1.1"/>
<path d="M618.69,372.67L618.52,372.76L618.35,372.86L618.17,372.97L617.98,373.09L617.79,373.21L617.59,373.35L617.38,373.49L617.15,373.66L616.91,373.87L616.58,374.27L616.30,374.53L616.03,374.70L615.78,374.82L615.53,374.93L615.28,375.01L615.03,375.08L614.78,375.13L614.54,375.17L614.29,375.19L614.05,375.20" fill="none" stroke="#000" stroke-width="2.3" stroke-linecap="butt"/>
<path d="M619.32,372.33L619.17,372.41L619.01,372.49L618.85,372.57L618.69,372.67L618.52,372.76L618.35,372.86L618.17,372.97L617.98,373.09L617.79,373.21L617.59,373.35L617.38,373.49L617.15,373.66L616.91,373.87L616.58,374.27L616.30,374.53L616.03,374.70L615.78,374.82L615.53,374.93L615.28,375.01L615.03,375.08L614.78,375.13L614.54,375.17L614.29,375.19L614.05,375.20L613.82,375.20L613.58,375.19L613.35,375.16L613.12,375.13" fill="none" stroke="#e8e8e8" stroke-width="1.1"/>
<path d="M612.78,368.80L612.59,368.75L612.40,368.70L612.20,368.65L611.98,368.60L611.76,368.55L611.52,368.51L611.27,368.46L610.99,368.42L610.67,368.39L610.15,368.45L609.77,368.43L609.47,368.36L609.19,368.27L608.94,368.16L608.71,368.05L608.49,367.92L608.28,367.78L608.08,367.63L607.89,367.48L607.71,367.32" fill="none" stroke="#000" stroke-width="2.3" stroke-linecap="butt"/>
<path d="M613.46,369.01L613.30,368.96L613.13,368.90L612.96,368.85L612.78,368.80L612.59,368.75L612.40,368.70L612.20,368.65L611.98,368.60L611.76,368.55L611.52,368.51L611.27,368.46L610.99,368.42L610.67,368.39L610.15,368.45L609.77,368.43L609.47,368.36L609.19,368.27L608.94,368.16L608.71,368.05L608.49,367.92L608.28,367.78L608.08,367.63L607.89,367.48L607.71,367.32L607.54,367.15L607.38,366.97L607.24,366.79L607.10,366.60" fill="none" stroke="#e8e8e8" stroke-width="1.1"/>
<path d="M611.35,361.92L611.26,361.76L611.16,361.58L611.05,361.41L610.93,361.22L610.81,361.03L610.68,360.83L610.54,360.62L610.38,360.40L610.18,360.16L609.84,359.86L609.51,359.55L609.33,359.29L609.20,359.03L609.09,358.78L609.00,358.53L608.93,358.28L608.88,358.03L608.84,357.79L608.81,357.54L608.80,357.30" fill="none" stroke="#000" stroke-width="2.3" stroke-linecap="butt"/>
<path d="M611.68,362.54L611.61,362.40L611.53,362.24L611.44,362.09L611.35,361.92L611.26,361.76L611.16,361.58L611.05,361.41L610.93,361.22L610.81,361.03L610.68,360.83L610.54,360.62L610.38,360.40L610.18,360.16L609.84,359.86L609.51,359.55L609.33,359.29L609.20,359.03L609.09,358.78L609.00,358.53L608.93,358.28L608.88,358.03L608.84,357.79L608.81,357.54L608.80,357.30L608.80,357.06L608.81,356.83L608.83,356.59L608.87,356.36" fill="none" stroke="#e8e8e8" stroke-width="1.1"/>
<path d="M615.19,356.02L615.24,355.83L615.29,355.64L615.34,355.44L615.39,355.23L615.44,355.00L615.49,354.77L615.53,354.52L615.57,354.25L615.61,353.94L615.58,353.49L615.56,353.04L615.63,352.72L615.71,352.45L615.81,352.19L615.93,351.95L616.06,351.73L616.19,351.52L616.34,351.32L616.49,351.12L616.65,350.94" fill="none" stroke="#000" stroke-width="2.3" stroke-linecap="butt"/>
<path d="M614.98,356.69L615.03,356.53L615.09,356.37L615.14,356.20L615.19,356.02L615.24,355.83L615.29,355.64L615.34,355.44L615.39,355.23L615.44,355.00L615.49,354.77L615.53,354.52L615.57,354.25L615.61,353.94L615.58,353.49L615.56,353.04L615.63,352.72L615.71,352.45L615.81,352.19L615.93,351.95L616.06,351.73L616.19,351.52L616.34,351.32L616.49,351.12L616.65,350.94L616.82,350.77L616.99,350.62L617.17,350.47L617.36,350.33" fill="none" stroke="#e8e8e8" stroke-width="1.1"/>
<text x="641.9" y="366.8" font-family="'DejaVu Sans','Liberation Sans',sans-serif" font-size="7.3" fill="#f4f4f4" textLength="74.6" lengthAdjust="spacing" transform="translate(641.9,0) scale(0.85,1) translate(-641.9,0)">DELPHI DIGITAL</text>
</svg></body></html>
